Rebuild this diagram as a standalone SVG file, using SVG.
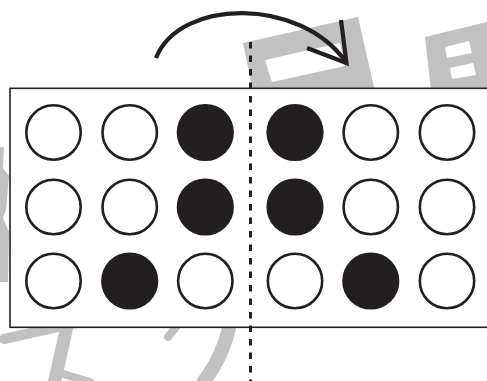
<svg xmlns="http://www.w3.org/2000/svg" width="487" height="381" viewBox="0 0 487 381">
  <style>
    .wm { fill: #c1c1c1; stroke: none; }
    .wms { fill: none; stroke: #c1c1c1; stroke-linecap: round; }
    .frame { fill: #ffffff; stroke: #231f20; stroke-width: 1.6; }
    .dot-open { fill: #ffffff; stroke: #231f20; stroke-width: 2.6; }
    .dot-full { fill: #231f20; stroke: none; }
    .fold { fill: none; stroke: #231f20; stroke-width: 3; stroke-dasharray: 6.5 7; }
    .arrow { fill: none; stroke: #231f20; stroke-width: 4.2; stroke-linecap: butt; }
  </style>
  <rect x="0" y="0" width="487" height="381" fill="#ffffff"/>
  <g id="watermark">
    <path class="wm" fill-rule="evenodd" d="M243,43 L358,17 L376,96 L255,100 Z M265,60 L340,43 L345,66 L272,82 Z"/>
    <path class="wm" fill-rule="evenodd" d="M425,37 L487,22 L487,96 L432,100 Z M445,47 L469,41 L472,53 L447,58 Z M450,68 L473,63 L476,75 L452,79 Z"/>
    <polygon class="wm" points="0,147 4,147 3,168 9,176 6,210 3,218 9,232 8,282 0,282"/>
    <line class="wms" x1="4" y1="339" x2="80" y2="322" stroke-width="10"/>
    <line class="wms" x1="68" y1="322" x2="54" y2="384" stroke-width="13" style="stroke-linecap:butt"/>
    <line class="wms" x1="60" y1="373" x2="90" y2="382" stroke-width="8"/>
    <line class="wms" x1="168" y1="337" x2="180" y2="322" stroke-width="8"/>
    <path class="wms" d="M232,300 Q232,345 202,384" stroke-width="14" style="stroke-linecap:butt"/>
  </g>
  <g id="frame">
    <rect class="frame" x="10" y="88.3" width="490" height="239"/>
  </g>
  <g id="dots">
    <circle id="d11" class="dot-open" cx="53.5" cy="132.5" r="27.2"/>
    <circle id="d12" class="dot-open" cx="129.7" cy="132.5" r="27.2"/>
    <circle id="d13" class="dot-full" cx="205.3" cy="132.5" r="28.6"/>
    <circle id="d14" class="dot-full" cx="295" cy="132.5" r="28.6"/>
    <circle id="d15" class="dot-open" cx="370.8" cy="132.5" r="27.2"/>
    <circle id="d16" class="dot-open" cx="447" cy="132.5" r="27.2"/>
    <circle id="d21" class="dot-open" cx="53.5" cy="207" r="27.2"/>
    <circle id="d22" class="dot-open" cx="129.7" cy="207" r="27.2"/>
    <circle id="d23" class="dot-full" cx="205.3" cy="207" r="28.6"/>
    <circle id="d24" class="dot-full" cx="295" cy="207" r="28.6"/>
    <circle id="d25" class="dot-open" cx="370.8" cy="207" r="27.2"/>
    <circle id="d26" class="dot-open" cx="447" cy="207" r="27.2"/>
    <circle id="d31" class="dot-open" cx="53.5" cy="281" r="27.2"/>
    <circle id="d32" class="dot-full" cx="129.7" cy="281" r="28.6"/>
    <circle id="d33" class="dot-open" cx="205.3" cy="281" r="27.2"/>
    <circle id="d34" class="dot-open" cx="295" cy="281" r="27.2"/>
    <circle id="d35" class="dot-full" cx="370.8" cy="281" r="28.6"/>
    <circle id="d36" class="dot-open" cx="447" cy="281" r="27.2"/>
  </g>
  <g id="connectors">
    <line class="fold" x1="250.5" y1="42" x2="250.5" y2="381"/>
    <path class="arrow" d="M156,58 C180,-2 300,-3 346,62"/>
    <path class="arrow" d="M341,20 L346.5,63 L307,48"/>
  </g>
</svg>
